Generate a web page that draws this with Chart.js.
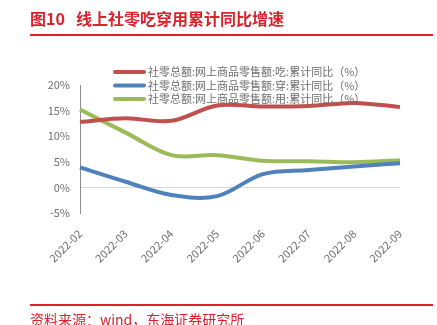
<!DOCTYPE html>
<html>
<head>
<meta charset="utf-8">
<script src="https://cdn.jsdelivr.net/npm/chart.js@4/dist/chart.umd.min.js"></script>
<style>
  body { margin: 0; background: #fff; font-family: "Noto Sans CJK SC", sans-serif; }
  #wrap { position: relative; width: 437px; height: 325px; overflow: hidden; }
  #title { position: absolute; left: 30px; top: 6px; font-size: 16px; font-weight: bold; color: #d9222e; white-space: nowrap; }
  #title span { margin-right: 11px; }
  .rule { position: absolute; left: 30px; width: 403px; height: 2px; background: #e0202e; }
  #source { position: absolute; left: 30px; top: 309px; font-size: 14px; color: #d9222e; white-space: nowrap; }
  canvas { position: absolute; left: 0; top: 0; }
</style>
</head>
<body>
<div id="wrap">
  <canvas id="trendChart" width="437" height="325"></canvas>
  <div id="title"><span>图10</span>线上社零吃穿用累计同比增速</div>
  <div class="rule" style="top:34px"></div>
  <div class="rule" style="top:304px"></div>
  <div id="source">资料来源：wind，东海证券研究所</div>
</div>
<script>
// data
const months = ['2022-02', '2022-03', '2022-04', '2022-05', '2022-06', '2022-07', '2022-08', '2022-09'];
const foodData = [12.8, 13.5, 13.0, 16.0, 15.8, 15.9, 16.5, 15.7];
const clothesData = [3.9, 1.1, -1.5, -1.7, 2.6, 3.4, 4.1, 4.7];
const goodsData = [15.2, 10.7, 6.3, 6.3, 5.2, 5.1, 4.9, 5.3];
const seriesNames = [
    '社零总额:网上商品零售额:吃:累计同比（%）',
    '社零总额:网上商品零售额:穿:累计同比（%）',
    '社零总额:网上商品零售额:用:累计同比（%）'
];
const yTicks = [-5, 0, 5, 10, 15, 20];

const grey = '#6e6e6e';
const fontFamily = '"Noto Sans CJK SC", "Noto Sans", sans-serif';

// legend sits over the top of the plot, like the original
const overlayLegend = {
    id: 'overlayLegend',
    afterDraw(chart) {
        const ctx = chart.ctx;
        ctx.save();
        ctx.font = '11px ' + fontFamily;
        ctx.textBaseline = 'middle';
        chart.data.datasets.forEach((ds, i) => {
            const y = 72 + i * 13.5;
            ctx.strokeStyle = ds.borderColor;
            ctx.lineWidth = 4;
            ctx.lineCap = 'round';
            ctx.beginPath();
            ctx.moveTo(115, y);
            ctx.lineTo(144, y);
            ctx.stroke();
            ctx.fillStyle = grey;
            ctx.fillText(ds.label, 148, y);
        });
        ctx.restore();
    }
};

const trendCtx = document.getElementById('trendChart').getContext('2d');
const trendChart = new Chart(trendCtx, {
    type: 'line',
    data: {
        labels: months,
        datasets: [{
            label: seriesNames[0],
            data: foodData,
            borderColor: '#c0504d'
        }, {
            label: seriesNames[1],
            data: clothesData,
            borderColor: '#4f81bd'
        }, {
            label: seriesNames[2],
            data: goodsData,
            borderColor: '#9bbb59'
        }]
    },
    options: {
        responsive: false,
        animation: false,
        layout: {
            padding: { left: 0, right: 37, top: 85, bottom: 0 }
        },
        elements: {
            line: { borderWidth: 4, tension: 0.35, capBezierPoints: false },
            point: { radius: 0 }
        },
        scales: {
            x: {
                offset: false,
                grid: { display: false },
                border: { display: false },
                ticks: {
                    color: grey,
                    font: { size: 11, family: fontFamily },
                    minRotation: 45,
                    maxRotation: 45,
                    padding: 6
                },
                afterFit(scale) { scale.height = 112; }
            },
            y: {
                min: -5,
                max: 20,
                afterBuildTicks(scale) {
                    scale.ticks = yTicks.map(v => ({ value: v }));
                },
                grid: {
                    drawTicks: false,
                    color: c => c.tick && c.tick.value === 0 ? '#d9d9d9' : 'transparent',
                    lineWidth: 1
                },
                border: { color: '#8c8c8c', width: 1 },
                ticks: {
                    color: grey,
                    font: { size: 11, family: fontFamily },
                    padding: 10,
                    callback: function(value) {
                        return value + '%';
                    }
                },
                afterFit(scale) { scale.width = 80; }
            }
        },
        plugins: {
            legend: { display: false },
            tooltip: { enabled: false }
        }
    },
    plugins: [overlayLegend]
});
</script>
</body>
</html>
